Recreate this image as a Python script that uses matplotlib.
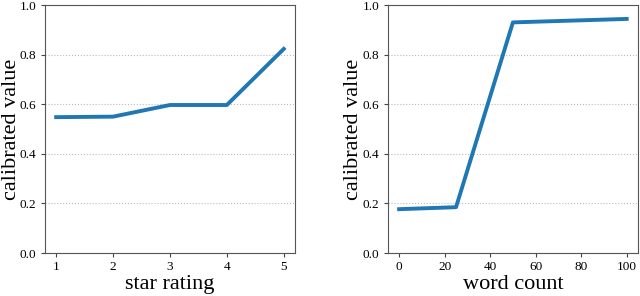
import matplotlib
matplotlib.use("Agg")
import matplotlib.pyplot as plt

plt.rcParams['font.family'] = ['Liberation Serif', 'DejaVu Serif']

star_rating = [1, 2, 3, 4, 5]
star_value = [0.548, 0.55, 0.597, 0.597, 0.823]

word_count = [0, 25, 50, 100]
word_value = [0.177, 0.185, 0.93, 0.944]

fig, axes = plt.subplots(1, 2, figsize=(6.4, 2.96), dpi=100)

panels = [
    (axes[0], star_rating, star_value, 'star rating', [1, 2, 3, 4, 5]),
    (axes[1], word_count, word_value, 'word count', [0, 20, 40, 60, 80, 100]),
]

for ax, x, y, xlabel, xticks in panels:
    ax.plot(x, y, color='#1f77b4', linewidth=2.8)
    ax.set_ylim(0, 1)
    ax.set_xticks(xticks)
    ax.set_yticks([0, 0.2, 0.4, 0.6, 0.8, 1.0])
    ax.yaxis.grid(True, linestyle=':', color='#bbbbbb', linewidth=0.8)
    ax.set_axisbelow(True)
    ax.set_xlabel(xlabel, fontsize=16, labelpad=1)
    ax.set_ylabel('calibrated value', fontsize=16)
    ax.yaxis.set_label_coords(-0.097, 0.5)
    ax.tick_params(labelsize=9.5, length=3, pad=3, color='#444444')
    for s in ax.spines.values():
        s.set_color('#555555')

fig.subplots_adjust(left=0.07, right=0.997, top=0.983, bottom=0.145, wspace=0.37)
fig.savefig('out.png')
